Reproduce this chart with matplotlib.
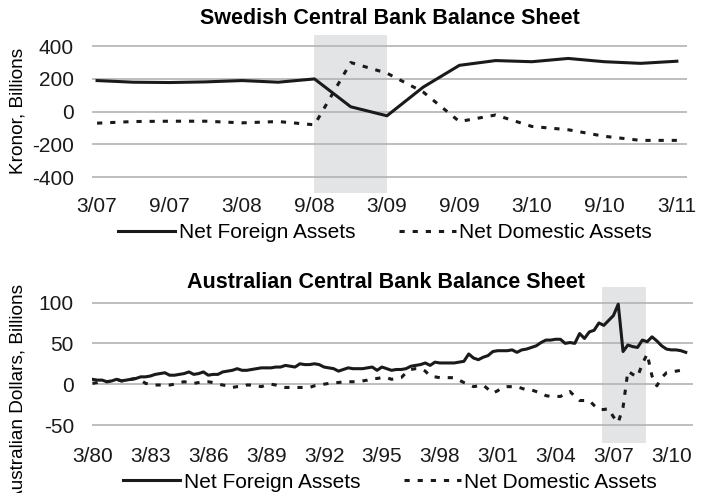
import matplotlib
matplotlib.use("Agg")
import matplotlib.pyplot as plt
import numpy as np

plt.rcParams['font.family'] = ['Liberation Sans', 'DejaVu Sans']

# ---------------- Sweden (quarterly, 3/07 .. 3/11) ----------------
se_tick_labels = ["3/07", "9/07", "3/08", "9/08", "3/09", "9/09", "3/10", "9/10", "3/11"]
se_nfa = [190, 180, 178, 182, 190, 180, 200, 30, -25, 150, 283, 312, 305, 325, 305, 295, 308]
se_nda = [-70, -60, -58, -58, -68, -60, -80, 300, 235, 120, -60, -20, -90, -110, -150, -175, -175]
se_shade = (6, 8)   # 9/08 .. 3/09 (quarter index)

# ---------------- Australia (quarterly, 3/80 .. 12/10) ----------------
au_tick_labels = ["3/80", "3/83", "3/86", "3/89", "3/92", "3/95", "3/98", "3/01", "3/04", "3/07", "3/10"]
au_nfa = [
    6, 5, 5, 3,        # 1980
    4, 6, 4, 5,        # 1981
    6, 7, 9, 9,        # 1982
    10, 12, 13, 14,    # 1983
    11, 11, 12, 13,    # 1984
    15, 12, 13, 15,    # 1985
    11, 12, 12, 15,    # 1986
    16, 17, 19, 17,    # 1987
    17, 18, 19, 20,    # 1988
    20, 20, 21, 21,    # 1989
    23, 22, 21, 25,    # 1990
    24, 24, 25, 24,    # 1991
    21, 20, 19, 16,    # 1992
    18, 20, 19, 19,    # 1993
    19, 20, 21, 17,    # 1994
    21, 19, 17, 18,    # 1995
    18, 19, 22, 23,    # 1996
    24, 26, 23, 27,    # 1997
    26, 26, 26, 26,    # 1998
    27, 28, 37, 32,    # 1999
    30, 33, 35, 40,    # 2000
    41, 41, 41, 42,    # 2001
    39, 42, 43, 45,    # 2002
    47, 51, 54, 54,    # 2003
    55, 55, 50, 51,    # 2004
    50, 62, 56, 64,    # 2005
    66, 75, 72, 78,    # 2006
    84, 98, 40, 48,    # 2007
    46, 45, 54, 52,    # 2008
    58, 53, 47, 43,    # 2009
    42, 42, 41, 39,    # 2010
]
au_nda = [
    1, 2, 4, 3,        # 1980
    4, 6, 4, 5,        # 1981
    6, 7, 5, 1,        # 1982
    0, -1, -1, -1,     # 1983
    -1, 0, 2, 3,       # 1984
    2, 1, 2, 3,        # 1985
    3, 2, 0, -1,       # 1986
    -2, -4, -3, -3,    # 1987
    -1, -1, -2, -3,    # 1988
    -1, 0, -1, -3,     # 1989
    -4, -4, -4, -4,    # 1990
    -4, -4, -2, -1,    # 1991
    0, 1, 2, 2,        # 1992
    3, 3, 3, 3,        # 1993
    4, 5, 7, 7,        # 1994
    8, 8, 6, 7,        # 1995
    8, 14, 18, 19,     # 1996
    19, 16, 10, 9,     # 1997
    8, 8, 8, 8,        # 1998
    5, 2, 0, -3,       # 1999
    -2, -1, -6, -11,   # 2000
    -8, -4, -3, -3,    # 2001
    -3, -5, -7, -7,    # 2002
    -9, -11, -14, -15, # 2003
    -15, -15, -12, -9, # 2004
    -15, -20, -20, -20,# 2005
    -26, -31, -31, -30,# 2006
    -40, -47, -28, 16, # 2007
    12, 9, 25, 37,     # 2008
    10, -2, 8, 14,     # 2009
    15, 16, 17, 19,    # 2010
]
au_shade = (105.7, 114.8)

series_labels = ["Net Foreign Assets", "Net Domestic Assets"]

W, H = 701, 493
fig = plt.figure(figsize=(W / 100, H / 100), dpi=100)

def fx(px):
    return px / W

def fy(px):
    return 1 - px / H

grid_c = "#b3b3b3"
shade_c = "#e3e4e6"
line_c = "#1a1a1a"
fs = 15
dash = (0, (1.7, 2.6))

def style(ax, yticks):
    for s in ax.spines.values():
        s.set_visible(False)
    ax.set_yticks(yticks)
    ax.set_yticklabels([str(t) for t in yticks])
    ax.yaxis.grid(True, color=grid_c, lw=1.2)
    ax.set_axisbelow(True)
    ax.tick_params(axis="both", length=0, labelsize=fs, colors="#1a1a1a")
    ax.tick_params(axis="y", pad=13)
    ax.tick_params(axis="x", pad=3)

leg_kw = dict(loc="center", ncol=2, frameon=False, fontsize=fs, handlelength=2.75,
              handletextpad=0.15, columnspacing=2.1, borderpad=0, borderaxespad=0)

# ---- top ----
ax1 = fig.add_axes([fx(92), fy(193), fx(687 - 92), (193 - 35) / H])
x1 = np.arange(len(se_nfa))
ax1.axvspan(se_shade[0], se_shade[1], color=shade_c, lw=0, zorder=0)
l1, = ax1.plot(x1, se_nfa, color=line_c, lw=2.2, solid_joinstyle="round")
l2, = ax1.plot(x1, se_nda, color=line_c, lw=2.2, linestyle=dash)
ax1.set_xlim(-0.14, 16.28)
ax1.set_ylim(-496, 468)
style(ax1, [400, 200, 0, -200, -400])
ax1.set_xticks(np.arange(0, len(se_nfa), 2))
ax1.set_xticklabels(se_tick_labels)
fig.text(fx(18), fy(111), "Kronor, Billions", rotation=90, ha="center", va="center", fontsize=13.7)
fig.text(fx(390), fy(18), "Swedish Central Bank Balance Sheet", ha="center", va="center",
         fontsize=15.5, fontweight="bold")
fig.legend([l1, l2], series_labels, bbox_to_anchor=(fx(385), fy(233)), **leg_kw)

# ---- bottom ----
ax2 = fig.add_axes([fx(92), fy(443), fx(693 - 92), (443 - 287) / H])
x2 = np.arange(len(au_nfa))
ax2.axvspan(au_shade[0], au_shade[1], color=shade_c, lw=0, zorder=0)
m1, = ax2.plot(x2, au_nfa, color=line_c, lw=2.2, solid_joinstyle="round")
m2, = ax2.plot(x2, au_nda, color=line_c, lw=2.2, linestyle=dash)
ax2.set_xlim(-0.1, 124.5)
ax2.set_ylim(-72, 119)
style(ax2, [100, 50, 0, -50])
ax2.set_xticks(np.arange(0, len(au_nfa), 12))
ax2.set_xticklabels(au_tick_labels)
fig.text(fx(18), fy(393), "Australian Dollars, Billions", rotation=90, ha="center", va="center",
         fontsize=13.7)
fig.text(fx(386), fy(282), "Australian Central Bank Balance Sheet", ha="center", va="center",
         fontsize=15.5, fontweight="bold")
fig.legend([m1, m2], series_labels, bbox_to_anchor=(fx(390), fy(482)), **leg_kw)

fig.savefig("out.png", dpi=100)
